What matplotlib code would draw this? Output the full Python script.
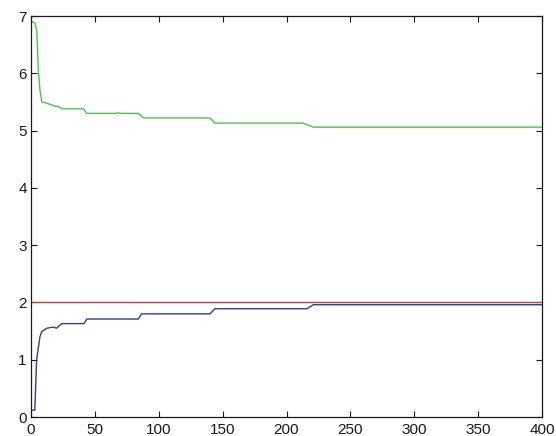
import numpy as np
import matplotlib
matplotlib.use("Agg")
import matplotlib.pyplot as plt

# upper bound estimate, decreasing with iterations
upper_x = [1, 3, 4.5, 5.7, 7, 8.4, 12, 16, 18, 21.4, 24, 41, 43.6,
           66, 68, 70, 84, 88, 140, 144, 213, 221, 400]
upper_y = [6.90, 6.88, 6.75, 6.06, 5.71, 5.50, 5.48, 5.45, 5.43, 5.42, 5.38,
           5.38, 5.30, 5.30, 5.31, 5.30, 5.30, 5.22, 5.22, 5.13, 5.13, 5.06, 5.06]

# lower bound estimate, increasing with iterations
lower_x = [1, 3, 4.4, 7, 8.4, 12.3, 17.5, 20, 24, 41.5, 43.6,
           84, 86.6, 140, 144, 216, 221, 400]
lower_y = [0.12, 0.12, 1.00, 1.40, 1.49, 1.55, 1.57, 1.55, 1.63, 1.63, 1.71,
           1.71, 1.80, 1.80, 1.89, 1.89, 1.96, 1.96]

# true value
true_x = [0, 400]
true_y = [2.0, 2.0]

plt.rcParams['font.family'] = ['Liberation Sans', 'DejaVu Sans']

fig = plt.figure(figsize=(5.56, 4.36), dpi=100)
ax = fig.add_axes([31 / 556, 19 / 436, 511 / 556, 401 / 436])

ax.plot(upper_x, upper_y, color="#4cc44c", lw=1.0)
ax.plot(true_x, true_y, color="#c0403f", lw=1.0)
ax.plot(lower_x, lower_y, color="#3a3a8c", lw=1.0)

ax.set_xlim(0, 400)
ax.set_ylim(0, 7)
ax.set_xticks(np.arange(0, 401, 50))
ax.set_yticks(np.arange(0, 8, 1))
ax.tick_params(direction="in", top=True, right=True, length=4, width=0.8,
               labelsize=11, colors="#1a1a1a")
ax.tick_params(axis="x", pad=4)
ax.tick_params(axis="y", pad=3)
for s in ax.spines.values():
    s.set_linewidth(0.9)
    s.set_color("#1a1a1a")

fig.savefig("out.png", dpi=100)
